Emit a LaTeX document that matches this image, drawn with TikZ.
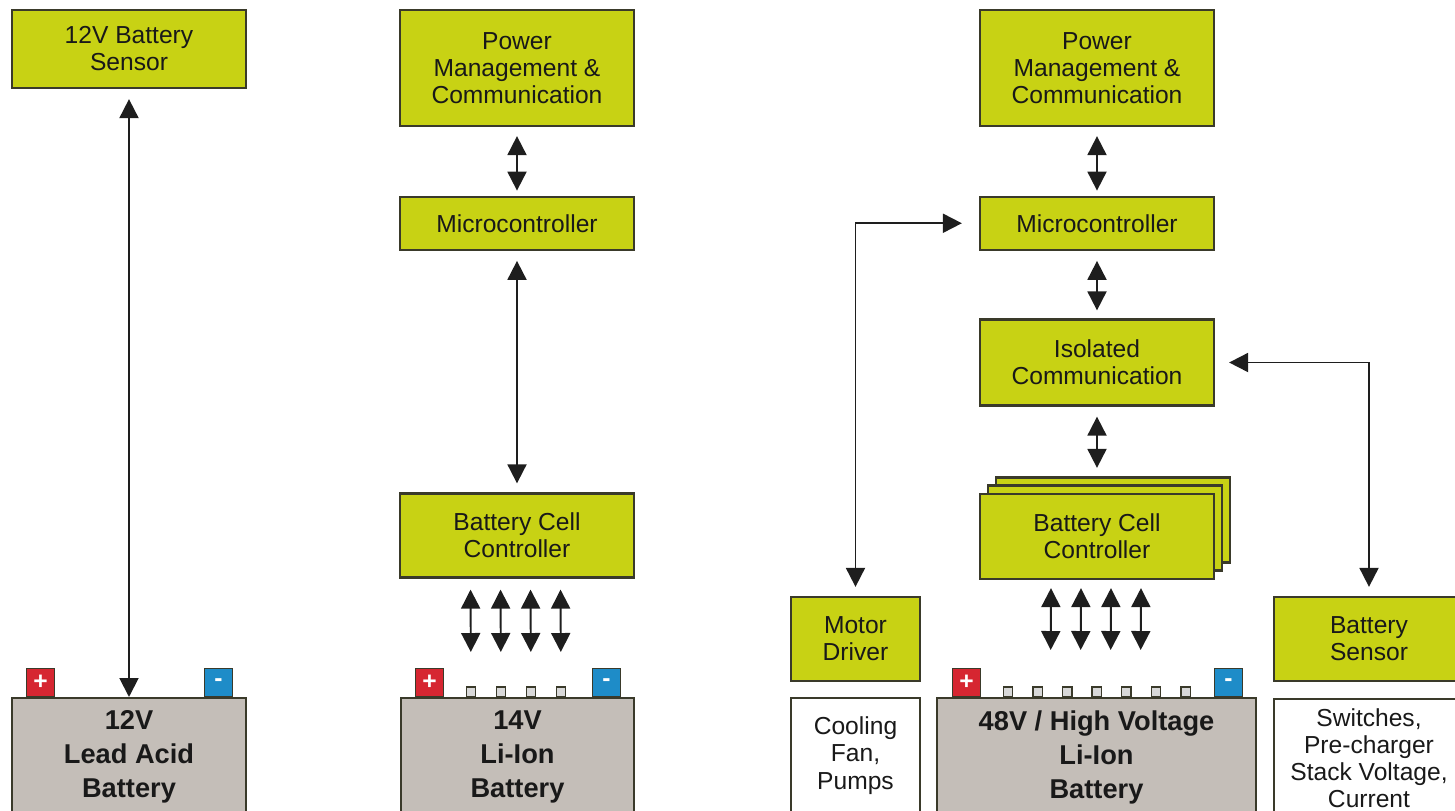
\documentclass[tikz,border=0pt]{standalone}
\usepackage{fontspec}
\setmainfont{Liberation Sans}
\usetikzlibrary{arrows.meta,positioning}
\definecolor{blocklime}{HTML}{C8D214}
\definecolor{blockedge}{HTML}{3A3A2A}
\definecolor{battgray}{HTML}{C4BEB8}
\definecolor{termred}{HTML}{D62631}
\definecolor{termblue}{HTML}{1E8CC8}
\definecolor{pingray}{HTML}{D8D8D8}
\definecolor{linedark}{HTML}{1E1E1E}
\tikzstyle{biarrow} = [{Triangle[length=0.38cm,width=0.38cm]}-{Triangle[length=0.38cm,width=0.38cm]}, line width=1.1pt, linedark]

\begin{document}
\begin{tikzpicture}[x=0.02cm, y=-0.02cm,
  blockbox/.style={rectangle, draw=blockedge, line width=1.3pt, fill=blocklime, minimum width=4.68cm, align=center, text=black!90, font=\fontsize{14}{15.4}\selectfont, inner sep=2pt},
  battbox/.style={rectangle, draw=blockedge, line width=1.3pt, fill=battgray, minimum height=2.36cm, anchor=north, align=center, text=black!90, font=\bfseries\fontsize{15.5}{19.3}\selectfont},
  notebox/.style={rectangle, draw=blockedge, line width=1.3pt, fill=white, anchor=north, align=center, text=black!90, font=\fontsize{14}{15.4}\selectfont},
  termbox/.style={rectangle, draw=blockedge, line width=0.8pt, minimum size=0.56cm, inner sep=0pt, text=white, font=\bfseries\fontsize{14}{14}\selectfont},
  cellpin/.style={rectangle, draw=blockedge, line width=0.8pt, fill=pingray, minimum size=0.19cm, inner sep=0pt, anchor=south}]

\useasboundingbox (0,0) rectangle (1455,811);
\clip (0,0) rectangle (1455,811);

% 12V lead acid
\node[blockbox, minimum height=1.56cm] (sens12) at (129,49) {12V Battery\\Sensor};
\node[battbox, minimum width=4.68cm] (bat12) at (129,697) {12V\\Lead Acid\\Battery};
\node[termbox, fill=termred, anchor=south west] (pos12) at ([xshift=0.3cm]bat12.north west) {+};
\node[termbox, fill=termblue, anchor=south east] (neg12) at ([xshift=-0.28cm]bat12.north east) {-};

% 14V li-ion
\node[blockbox, minimum height=2.32cm] (pm14) at (517,68) {Power\\Management \&\\Communication};
\node[blockbox, minimum height=1.06cm, below=1.37cm of pm14] (mc14) {Microcontroller};
\node[blockbox, minimum height=1.68cm, below=4.83cm of mc14] (bcc14) {Battery Cell\\Controller};
\node[battbox, minimum width=4.66cm] (bat14) at (517.5,697) {14V\\Li-Ion\\Battery};
\node[termbox, fill=termred, anchor=south west] (pos14) at ([xshift=0.3cm]bat14.north west) {+};
\node[termbox, fill=termblue, anchor=south east] (neg14) at ([xshift=-0.28cm]bat14.north east) {-};
\foreach \i in {0,...,3}
  \node[cellpin] (pin14\i) at ([xshift=-0.93cm+0.6cm*\i]bat14.north) {};

% 48V / high voltage
\node[blockbox, minimum height=2.32cm] (pm48) at (1097,68) {Power\\Management \&\\Communication};
\node[blockbox, minimum height=1.06cm, below=1.37cm of pm48] (mc48) {Microcontroller};
\node[blockbox, minimum height=1.72cm, below=1.35cm of mc48] (iso48) {Isolated\\Communication};
\node[blockbox, minimum height=1.7cm] (bcc48c) at (1113,520) {};
\node[blockbox, minimum height=1.7cm] (bcc48b) at (1105,528) {};
\node[blockbox, minimum height=1.7cm] (bcc48) at (1097,536.5) {Battery Cell\\Controller};
\node[battbox, minimum width=6.38cm] (bat48) at (1096.5,697) {48V / High Voltage\\Li-Ion\\Battery};
\node[termbox, fill=termred, anchor=south west] (pos48) at ([xshift=0.32cm]bat48.north west) {+};
\node[termbox, fill=termblue, anchor=south east] (neg48) at ([xshift=-0.28cm]bat48.north east) {-};
\foreach \i in {0,...,6}
  \node[cellpin] (pin48\i) at ([xshift=-1.77cm+0.592cm*\i]bat48.north) {};

\node[blockbox, minimum width=2.58cm, minimum height=1.68cm] (motor) at (855.5,639) {Motor\\Driver};
\node[notebox, minimum width=2.58cm, minimum height=2.3cm] (cooling) at (855.5,697) {Cooling\\Fan,\\Pumps};
\node[blockbox, minimum width=3.8cm, minimum height=1.68cm] (bsens) at (1369,639) {Battery\\Sensor};
\node[notebox, minimum width=3.8cm, minimum height=2.36cm] (switches) at (1369,698) {Switches,\\Pre-charger\\Stack Voltage,\\Current};

% connectors
\draw[biarrow, shorten <=0.2cm] (sens12) -- (bat12);
\draw[biarrow, shorten <=0.18cm, shorten >=0.1cm] (pm14) -- (mc14);
\draw[biarrow, shorten <=0.2cm, shorten >=0.18cm] (mc14) -- (bcc14);
\foreach \i in {0,...,3}
  \draw[biarrow, shorten <=0.22cm, shorten >=0.9cm] ([xshift=-0.93cm+0.6cm*\i]bcc14.south) -- ([xshift=-0.93cm+0.6cm*\i]bat14.north);
\draw[biarrow, shorten <=0.18cm, shorten >=0.1cm] (pm48) -- (mc48);
\draw[biarrow, shorten <=0.2cm, shorten >=0.16cm] (mc48) -- (iso48);
\draw[biarrow, shorten <=0.2cm, shorten >=0.5cm] (iso48) -- (bcc48);
\foreach \i in {0,...,3}
  \draw[biarrow, shorten <=0.16cm, shorten >=0.94cm] ([xshift=-0.92cm+0.6cm*\i]bcc48.south) -- ([xshift=-0.92cm+0.6cm*\i]bat48.north);
\draw[biarrow, shorten <=0.18cm, shorten >=0.34cm] (motor.north) |- (mc48.west);
\draw[biarrow, shorten <=0.18cm, shorten >=0.28cm] (bsens.north) |- (iso48.east);
\end{tikzpicture}
\end{document}
